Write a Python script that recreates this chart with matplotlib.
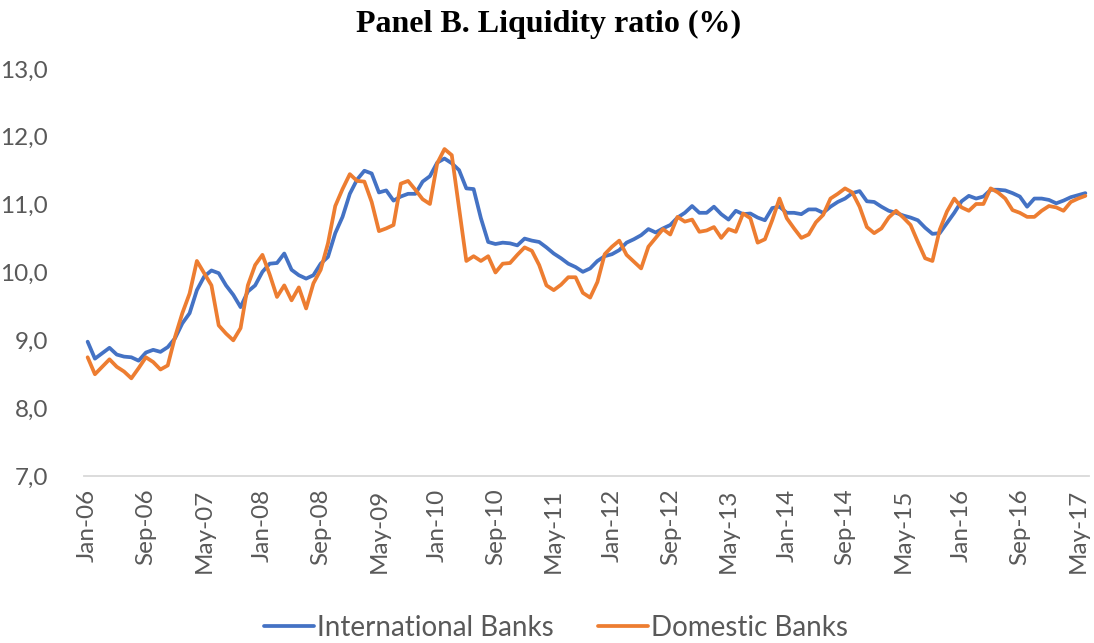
import matplotlib
matplotlib.use('Agg')
import matplotlib.pyplot as plt
import numpy as np
import pandas as pd

# monthly observations, Jan-06 .. Jun-17
months = pd.date_range('2006-01-01', periods=138, freq='MS')

international = [
    8.98, 8.73, 8.81, 8.89, 8.79, 8.76, 8.75, 8.70, 8.82, 8.86, 8.83, 8.90,
    9.03, 9.25, 9.40, 9.74, 9.94, 10.03, 9.99, 9.81, 9.67, 9.49, 9.72, 9.81,
    10.01, 10.13, 10.14, 10.28, 10.04, 9.96, 9.91, 9.96, 10.13, 10.23, 10.58, 10.82,
    11.16, 11.37, 11.50, 11.46, 11.18, 11.21, 11.06, 11.12, 11.16, 11.16, 11.34, 11.42,
    11.62, 11.68, 11.61, 11.51, 11.24, 11.23, 10.80, 10.45, 10.42, 10.44, 10.43, 10.40,
    10.50, 10.47, 10.45, 10.37, 10.28, 10.21, 10.13, 10.08, 10.01, 10.06, 10.17, 10.24,
    10.27, 10.33, 10.44, 10.49, 10.55, 10.64, 10.59, 10.65, 10.70, 10.81, 10.88, 10.98,
    10.88, 10.88, 10.97, 10.86, 10.78, 10.91, 10.86, 10.87, 10.81, 10.77, 10.95, 10.97,
    10.88, 10.88, 10.86, 10.93, 10.93, 10.88, 10.97, 11.04, 11.09, 11.17, 11.20, 11.05,
    11.04, 10.97, 10.91, 10.88, 10.84, 10.81, 10.77, 10.66, 10.57, 10.58, 10.73, 10.88,
    11.05, 11.13, 11.09, 11.12, 11.22, 11.22, 11.21, 11.17, 11.12, 10.97, 11.09, 11.09,
    11.07, 11.02, 11.06, 11.11, 11.14, 11.17,
]

domestic = [
    8.75, 8.50, 8.61, 8.72, 8.61, 8.54, 8.44, 8.59, 8.75, 8.68, 8.57, 8.63,
    9.05, 9.40, 9.69, 10.17, 9.99, 9.81, 9.22, 9.10, 9.00, 9.18, 9.81, 10.11,
    10.26, 9.97, 9.64, 9.81, 9.59, 9.78, 9.47, 9.84, 10.04, 10.43, 10.98, 11.23,
    11.45, 11.35, 11.34, 11.04, 10.61, 10.65, 10.70, 11.31, 11.35, 11.22, 11.08, 11.01,
    11.61, 11.82, 11.73, 10.95, 10.17, 10.24, 10.17, 10.24, 10.00, 10.13, 10.14, 10.26,
    10.37, 10.32, 10.11, 9.81, 9.74, 9.82, 9.93, 9.93, 9.70, 9.63, 9.86, 10.27,
    10.38, 10.47, 10.26, 10.16, 10.06, 10.38, 10.51, 10.64, 10.56, 10.82, 10.75, 10.78,
    10.60, 10.62, 10.67, 10.51, 10.64, 10.60, 10.87, 10.80, 10.44, 10.49, 10.77, 11.09,
    10.80, 10.65, 10.51, 10.56, 10.74, 10.85, 11.09, 11.16, 11.24, 11.18, 10.97, 10.67,
    10.58, 10.65, 10.81, 10.91, 10.81, 10.70, 10.45, 10.21, 10.17, 10.63, 10.90, 11.09,
    10.96, 10.91, 11.01, 11.01, 11.24, 11.18, 11.09, 10.92, 10.88, 10.82, 10.82, 10.91,
    10.98, 10.96, 10.91, 11.04, 11.09, 11.13,
]

y_ticks = [7, 8, 9, 10, 11, 12, 13]

grey = '#595959'
plt.rcParams['font.family'] = ['Lato', 'DejaVu Sans']

fig = plt.figure(figsize=(10.94, 6.43), dpi=100)
ax = fig.add_axes([84 / 1094, 1 - 476 / 643, 1005 / 1094, 407 / 643])

x = np.arange(len(months))
ax.plot(x, international, color='#4472C4', lw=2.7, label='International Banks',
        solid_joinstyle='round', solid_capstyle='round')
ax.plot(x, domestic, color='#ED7D31', lw=2.7, label='Domestic Banks',
        solid_joinstyle='round', solid_capstyle='round')

ax.set_xlim(-0.5, len(months) - 0.5)
ax.set_ylim(7, 13)
ax.set_yticks(y_ticks)
ax.set_yticklabels([f'{v:.1f}'.replace('.', ',') for v in y_ticks])
ticks = x[::8]
ax.set_xticks(ticks)
ax.set_xticklabels([months[i].strftime('%b-%y') for i in ticks], rotation=90)

for s in ['top', 'right', 'left']:
    ax.spines[s].set_visible(False)
ax.spines['bottom'].set_color('#d9d9d9')
ax.spines['bottom'].set_linewidth(1.3)
ax.tick_params(axis='both', length=0, colors=grey, labelsize=17.5)
ax.tick_params(axis='y', pad=26)
ax.tick_params(axis='x', pad=9)

fig.text(0.501, 0.962, 'Panel B. Liquidity ratio (%)', ha='center', va='center',
         fontsize=23, fontweight='bold', family='Liberation Serif')

leg = fig.legend(loc='center', bbox_to_anchor=(0.508, 0.023), ncol=2, frameon=False,
                 fontsize=20, handlelength=1.8, columnspacing=1.6, handletextpad=0.1)
for t in leg.get_texts():
    t.set_color(grey)

fig.savefig('out.png', dpi=100)
